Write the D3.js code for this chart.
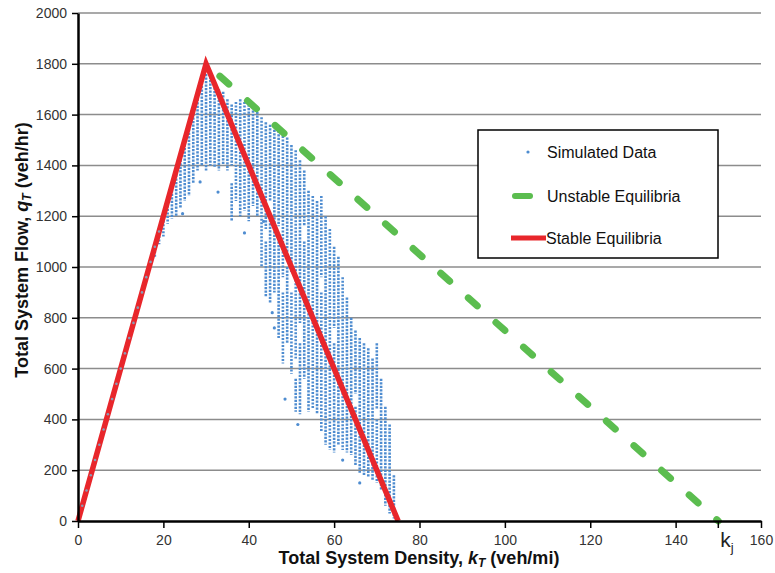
<!DOCTYPE html>
<html>
<head>
<meta charset="utf-8">
<script src="https://cdn.jsdelivr.net/npm/d3@7"></script>
<style>
  body { margin: 0; background: #fff; }
  svg { font-family: "Liberation Sans", Arial, sans-serif; }
</style>
</head>
<body>
<script>
// axis ticks
var xTicks = [0, 20, 40, 60, 80, 100, 120, 140, 160];
var yTicks = [0, 200, 400, 600, 800, 1000, 1200, 1400, 1600, 1800, 2000];

// equilibrium lines (density veh/mi, flow veh/hr)
var stableK = [0, 30, 75];
var stableQ = [0, 1800, 0];
var unstableK = [30, 150];
var unstableQ = [1800, 0];
var jamDensity = 150;

// simulated data on the free-flow branch
var freeFlowK = [1, 2, 3, 4, 5, 6, 7, 8, 9, 10, 11, 12, 13, 14, 15, 16, 17, 18, 19];
var freeFlowQ = [60, 120, 180, 240, 300, 360, 420, 480, 540, 600, 660, 720, 780, 840, 900, 960, 1020, 1080, 1140];

// simulated data in congestion: vertical runs of points [density, flow low, flow high]
var scatterColumns = [
    [18, 1040, 1090], [19, 1090, 1150], [20, 1120, 1210], [21, 1170, 1270],
    [22, 1190, 1330], [23, 1200, 1390], [24, 1230, 1450], [25, 1260, 1510],
    [26, 1280, 1570], [27, 1330, 1630], [28, 1380, 1690], [29, 1400, 1740],
    [30, 1380, 1760], [31, 1400, 1750], [32, 1390, 1720], [33, 1380, 1700],
    [34, 1400, 1690], [35, 1380, 1660], [36, 1180, 1330], [36, 1400, 1640],
    [37, 1260, 1650], [38, 1200, 1660], [39, 1220, 1650], [40, 1180, 1640],
    [41, 1240, 1630], [42, 1200, 1610], [43, 1000, 1590], [44, 880, 1100],
    [44, 1150, 1570], [45, 860, 1200], [45, 1260, 1560], [46, 900, 1540],
    [47, 720, 1100], [47, 1160, 1550], [48, 620, 900], [48, 960, 1530],
    [49, 700, 1000], [49, 1060, 1510], [50, 580, 900], [50, 980, 1480],
    [51, 430, 560], [51, 640, 1460], [52, 420, 700], [52, 780, 1420],
    [53, 560, 1100], [53, 1160, 1380], [54, 430, 1300], [55, 440, 1280],
    [56, 420, 1260], [57, 350, 900], [57, 960, 1280], [58, 300, 1200],
    [59, 280, 1150], [60, 270, 700], [60, 760, 1080], [61, 300, 1040],
    [62, 280, 960], [63, 270, 880], [64, 260, 800], [65, 220, 450],
    [65, 500, 750], [66, 190, 720], [67, 180, 700], [68, 170, 680],
    [69, 160, 640], [70, 150, 400], [70, 440, 700], [71, 120, 560],
    [72, 60, 450], [73, 30, 380], [74, 10, 180]
];

// scattered single points
var scatterPoints = [
    [28.6, 1335], [32.8, 1295], [39, 1134], [43.5, 1180], [24.5, 1210],
    [46, 760], [48.5, 480], [51.5, 380], [45.5, 820], [62, 240], [66, 150]
];

var legendLabels = ["Simulated Data", "Unstable Equilibria", "Stable Equilibria"];

window.onload = function(){

    var w = 775, h = 573;
    var blue = "#4e8cd0";
    var svg = d3.select("body").append("svg")
        .attr("width", w)
        .attr("height", h);

    var x = d3.scaleLinear().domain([0, 160]).range([78, 761]);
    var y = d3.scaleLinear().domain([0, 2000]).range([521, 13]);

    //horizontal gridlines
    svg.append("g").selectAll("line")
        .data(yTicks.filter(function(d){ return d > 0; }))
        .enter().append("line")
        .attr("x1", x(0)).attr("x2", x(160))
        .attr("y1", function(d){ return y(d); })
        .attr("y2", function(d){ return y(d); })
        .style("stroke", "#8c8c8c")
        .style("stroke-width", 1.5);

    //simulated data columns
    svg.append("g").selectAll("line")
        .data(scatterColumns)
        .enter().append("line")
        .attr("x1", function(d){ return x(d[0]); })
        .attr("x2", function(d){ return x(d[0]); })
        .attr("y1", function(d){ return y(d[2]); })
        .attr("y2", function(d){ return y(d[1]); })
        .style("stroke", blue)
        .style("stroke-width", 2.6)
        .style("stroke-dasharray", "2.2,1.3");

    svg.append("g").selectAll("circle")
        .data(scatterPoints)
        .enter().append("circle")
        .attr("cx", function(d){ return x(d[0]); })
        .attr("cy", function(d){ return y(d[1]); })
        .attr("r", 1.6)
        .style("fill", blue);

    var line = d3.line()
        .x(function(d){ return x(d[0]); })
        .y(function(d){ return y(d[1]); });

    //unstable equilibria
    svg.append("path")
        .datum(d3.zip(unstableK, unstableQ))
        .attr("d", line)
        .style("fill", "none")
        .style("stroke", "#5bbd4f")
        .style("stroke-width", 7)
        .style("stroke-linecap", "round")
        .style("stroke-dasharray", "12,25")
        .style("stroke-dashoffset", 18.5);

    //stable equilibria
    svg.append("path")
        .datum(d3.zip(stableK, stableQ))
        .attr("d", line)
        .style("fill", "none")
        .style("stroke", "#e8262b")
        .style("stroke-width", 5.5)
        .style("stroke-linejoin", "miter");

    //free-flow simulated points sit on the red line
    svg.append("g").selectAll("circle")
        .data(d3.zip(freeFlowK, freeFlowQ))
        .enter().append("circle")
        .attr("cx", function(d){ return x(d[0]); })
        .attr("cy", function(d){ return y(d[1]); })
        .attr("r", 1.3)
        .style("fill", "#8a9bb5");

    //axes
    var xAxis = d3.axisBottom(x).tickValues(xTicks).tickSize(7).tickSizeOuter(0).tickPadding(7)
        .tickFormat(d3.format("d"));
    var yAxis = d3.axisLeft(y).tickValues(yTicks).tickSize(6).tickSizeOuter(0).tickPadding(5)
        .tickFormat(d3.format("d"));

    var gx = svg.append("g").attr("transform", "translate(0," + y(0) + ")").call(xAxis);
    var gy = svg.append("g").attr("transform", "translate(" + x(0) + ",0)").call(yAxis);

    [gx, gy].forEach(function(g){
        g.select(".domain").style("stroke", "#000").style("stroke-width", 2.5);
        g.selectAll(".tick line").style("stroke", "#000").style("stroke-width", 1.5);
        g.selectAll(".tick text")
            .style("font-family", "'Liberation Sans', Arial, sans-serif")
            .style("font-size", "14px")
            .style("fill", "#333");
    });

    //jam density tick and label
    svg.append("line")
        .attr("x1", x(jamDensity)).attr("x2", x(jamDensity))
        .attr("y1", y(0)).attr("y2", y(0) + 7)
        .style("stroke", "#000").style("stroke-width", 1.5);
    var kj = svg.append("text")
        .attr("x", x(jamDensity) + 2)
        .attr("y", 547)
        .style("font-size", "21px")
        .style("fill", "#222")
        .text("k");
    kj.append("tspan").attr("dy", 5).style("font-size", "13px").text("j");

    //axis titles
    var xt = svg.append("text")
        .attr("x", 419).attr("y", 564)
        .attr("text-anchor", "middle")
        .style("font-size", "18px").style("font-weight", "bold").style("fill", "#111")
        .text("Total System Density, ");
    xt.append("tspan").style("font-style", "italic").text("k");
    xt.append("tspan").style("font-style", "italic").style("font-size", "12px").attr("dy", 3).text("T");
    xt.append("tspan").attr("dy", -3).text(" (veh/mi)");

    var yt = svg.append("text")
        .attr("transform", "translate(28,250) rotate(-90)")
        .attr("text-anchor", "middle")
        .style("font-size", "18px").style("font-weight", "bold").style("fill", "#111")
        .text("Total System Flow, ");
    yt.append("tspan").style("font-style", "italic").text("q");
    yt.append("tspan").style("font-style", "italic").style("font-size", "12px").attr("dy", 3).text("T");
    yt.append("tspan").attr("dy", -3).text(" (veh/hr)");

    //legend
    var legend = svg.append("g");
    legend.append("rect")
        .attr("x", 478).attr("y", 130)
        .attr("width", 240).attr("height", 128)
        .style("fill", "#fff").style("stroke", "#000").style("stroke-width", 1.5);

    var rowY = [152, 196, 238];
    legend.append("circle").attr("cx", 528).attr("cy", rowY[0]).attr("r", 1.6).style("fill", blue);
    legend.append("line")
        .attr("x1", 515).attr("x2", 530).attr("y1", rowY[1]).attr("y2", rowY[1])
        .style("stroke", "#5bbd4f").style("stroke-width", 6).style("stroke-linecap", "round");
    legend.append("line")
        .attr("x1", 511).attr("x2", 546).attr("y1", rowY[2]).attr("y2", rowY[2])
        .style("stroke", "#e8262b").style("stroke-width", 5);

    legend.selectAll(".lab")
        .data(legendLabels)
        .enter().append("text")
        .attr("class", "lab")
        .attr("x", function(d, i){ return i == 2 ? 546 : 547; })
        .attr("y", function(d, i){ return rowY[i] + 6; })
        .style("font-size", "16px")
        .style("fill", "#111")
        .text(function(d){ return d; });
};
</script>
</body>
</html>
